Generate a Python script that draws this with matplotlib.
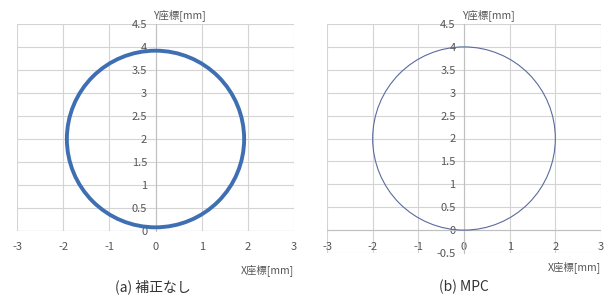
"""
Circle tracking result: no correction vs. MPC.
"""

import matplotlib
matplotlib.use("Agg")
import matplotlib.pyplot as plt
from matplotlib.patches import Circle

plt.rcParams["font.family"] = ["Noto Sans CJK JP", "DejaVu Sans"]

# Data
panel_titles = ["(a) 補正なし", "(b) MPC"]
circle_centers = [(0.0, 2.0), (0.0, 2.0)]
circle_radii = [1.92, 2.0]
y_mins = [0.0, -0.5]
x_ticks = [-3, -2, -1, 0, 1, 2, 3]
y_ticks_a = [0, 0.5, 1, 1.5, 2, 2.5, 3, 3.5, 4, 4.5]
y_ticks_b = [-0.5, 0, 0.5, 1, 1.5, 2, 2.5, 3, 3.5, 4, 4.5]
x_label = "X座標[mm]"
y_label = "Y座標[mm]"

# Styles
line_colors = ["#3f6fb3", "#5b6b9e"]
line_widths = [2.8, 0.8]
grid_color = "#d4d4d4"
text_color = "#555555"

fig = plt.figure(figsize=(6.08, 3.02), dpi=100)
ax_a = fig.add_axes([17 / 608, 71 / 302, 277 / 608, 207 / 302])
ax_b = fig.add_axes([327 / 608, 49 / 302, 274 / 608, 229 / 302])
axes = [ax_a, ax_b]
y_ticks_all = [y_ticks_a, y_ticks_b]
x_pads = [8, -8]
x_label_y = [-0.16, -0.035]

for i, ax in enumerate(axes):
    ax.set_xlim(x_ticks[0], x_ticks[-1])
    ax.set_ylim(y_mins[i], 4.5)
    ax.set_xticks(x_ticks)
    ax.set_yticks(y_ticks_all[i])
    ax.set_xticklabels([str(t) for t in x_ticks])
    ax.set_yticklabels([f"{t:g}" for t in y_ticks_all[i]])
    ax.grid(True, color=grid_color, linewidth=0.8)
    ax.set_axisbelow(True)
    for side in ["top", "right", "bottom"]:
        ax.spines[side].set_visible(False)
    ax.spines["left"].set_position(("data", 0))
    ax.spines["left"].set_color("#c0c0c0")
    ax.spines["left"].set_linewidth(0.8)
    ax.tick_params(axis="both", length=0, labelsize=8, labelcolor=text_color)
    ax.tick_params(axis="y", pad=6)
    ax.tick_params(axis="x", pad=x_pads[i])
    ax.axhline(0, color="#c0c0c0", linewidth=0.8, zorder=1)

    circ = Circle(circle_centers[i], circle_radii[i], fill=False,
                  edgecolor=line_colors[i], linewidth=line_widths[i], zorder=3)
    ax.add_patch(circ)

    # Axis titles in Excel style
    ax.text(-0.05, 4.57, y_label, transform=ax.transData, fontsize=7.5,
            color=text_color, ha="left", va="bottom")
    ax.text(1.0, x_label_y[i], x_label, transform=ax.transAxes, fontsize=7.5,
            color=text_color, ha="right", va="top")

fig.text(153 / 608, 1 - 287 / 302, panel_titles[0], ha="center", va="center",
         fontsize=10, color="#333333")
fig.text(464 / 608, 1 - 287 / 302, panel_titles[1], ha="center", va="center",
         fontsize=10, color="#333333")

fig.savefig("out.png", dpi=100, facecolor="white")
